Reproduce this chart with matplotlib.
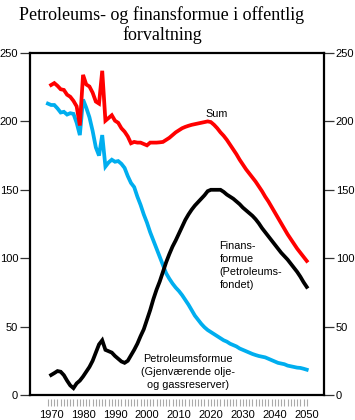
import numpy as np
import matplotlib
matplotlib.use("Agg")
import matplotlib.pyplot as plt

# Petroleumsformue (blå), fra 1969
pet_years = list(range(1969, 2051))
pet_vals = [213, 212, 212, 209.5, 206.5, 207, 205, 206, 205.5, 199, 190,
            216, 210, 203, 193, 181, 175, 190, 167, 170, 172,
            170.5, 171, 169, 166, 160, 155, 152, 145, 139, 132,
            126, 119, 113, 107, 101, 95, 89, 85, 81.5, 78.5,
            76, 73, 69.5, 66, 62, 58, 55, 52, 49.5, 47.5,
            46, 44.5, 43, 41.5, 40, 39, 37.5, 36.5, 35.5, 34,
            33, 32, 31, 30, 29.2, 28.5, 28, 27.5, 26.5, 25.5,
            24.5, 23.5, 23, 22.5, 21.5, 21, 20.5, 20, 19.8, 19.2,
            18.5]

# Finansformue (svart), fra 1970
fin_years = list(range(1970, 2051))
fin_vals = [14.6, 16, 17.5, 17, 14.5, 10.5, 7, 5, 8.5, 10.5,
            13.5, 17, 20.5, 25, 31, 37, 40, 33, 32, 31,
            28.5, 26.5, 24.5, 23.5, 25, 29, 33, 37.5, 43, 48,
            55, 62, 70, 77, 83, 90, 97, 103, 108.5, 113,
            118, 123, 128, 132, 135.5, 138.5, 141, 143.5, 146, 149,
            150, 150, 150, 150, 148.5, 146.5, 145, 143.5, 141.5, 139.5,
            137, 135, 133, 131, 128.5, 125.5, 122, 119, 116, 113,
            110, 107, 104, 101.5, 99, 96, 93, 90, 86.5, 82.5,
            79]

# Sum (rød), fra 1970
sum_years = list(range(1970, 2051))
sum_vals = [226.6, 228, 226, 223.5, 223, 219.5, 218, 215, 211, 197,
            234, 227, 225.5, 221, 214.5, 213, 237, 200.5, 202.5, 204.5,
            200.5, 199, 195, 192.5, 189, 184, 185, 184.5, 184.5, 183.5,
            182.5, 184.5, 184.5, 184.5, 184.7, 185, 186.5, 188, 190, 192,
            193.5, 195, 196, 196.8, 197.5, 198, 198.5, 199, 199.5, 200,
            199.5, 197.5, 195, 192, 189.5, 186.5, 183, 179.5, 176, 172,
            168.5, 165, 162, 159, 156, 152.5, 149, 145, 141.5, 137.5,
            133.5, 129.5, 125.5, 121.5, 117.5, 114, 110.5, 107, 104, 101,
            98]

title = "Petroleums- og finansformue i offentlig\nforvaltning"
label_sum = "Sum"
label_fin = "Finans-\nformue\n(Petroleums-\nfondet)"
label_pet = "Petroleumsformue\n(Gjenværende olje-\nog gassreserver)"

sans = ["Liberation Sans", "DejaVu Sans"]
serif = ["Liberation Serif", "DejaVu Serif"]

fig = plt.figure(figsize=(3.55, 4.2), dpi=100)
ax = fig.add_axes([30/355, 1 - 395/420, (324 - 30)/355, (395 - 53)/420])

ax.plot(pet_years, pet_vals, color="#00AEEF", lw=2.7, solid_joinstyle="miter")
ax.plot(fin_years, fin_vals, color="black", lw=2.7, solid_joinstyle="miter")
ax.plot(sum_years, sum_vals, color="#FF0000", lw=2.7, solid_joinstyle="miter")

ax.set_xlim(1963.4, 2055.4)
ax.set_ylim(0, 250)

# ramme
for s in ["left", "right", "top"]:
    ax.spines[s].set_linewidth(1.6)
ax.spines["bottom"].set_visible(False)
ax.spines["bottom"].set_position(("outward", 3))
ax.axhline(0, color="black", lw=1.6, clip_on=False, zorder=5)

ax.set_yticks(np.arange(0, 251, 50))
ax.tick_params(axis="y", which="major", direction="out", length=7, width=0.9,
               color="#333333", labelsize=8, pad=1.5,
               left=True, right=True, labelleft=True, labelright=True)

ax.set_xticks(np.arange(1970, 2051, 10))
ax.set_xticks(np.arange(1969, 2051, 1), minor=True)
ax.tick_params(axis="x", which="both", direction="out", length=5, width=0.8,
               color="#aaaaaa", labelsize=8, pad=3)

for lab in ax.get_xticklabels() + ax.get_yticklabels():
    lab.set_family(sans)

ax.text(2021.8, 205.4, label_sum, ha="center", va="center",
        fontsize=7.8, family=sans)
ax.text(2022.7, 94.7, label_fin, ha="left", va="center",
        fontsize=7.8, family=sans, linespacing=1.4)
ax.text(2012.9, 17, label_pet, ha="center", va="center",
        fontsize=7.8, family=sans, linespacing=1.35)

fig.text(162/355, 1 - 25/420, title, ha="center", va="center",
         fontsize=13, family=serif, linespacing=1.2)

fig.savefig("out.png", dpi=100)
